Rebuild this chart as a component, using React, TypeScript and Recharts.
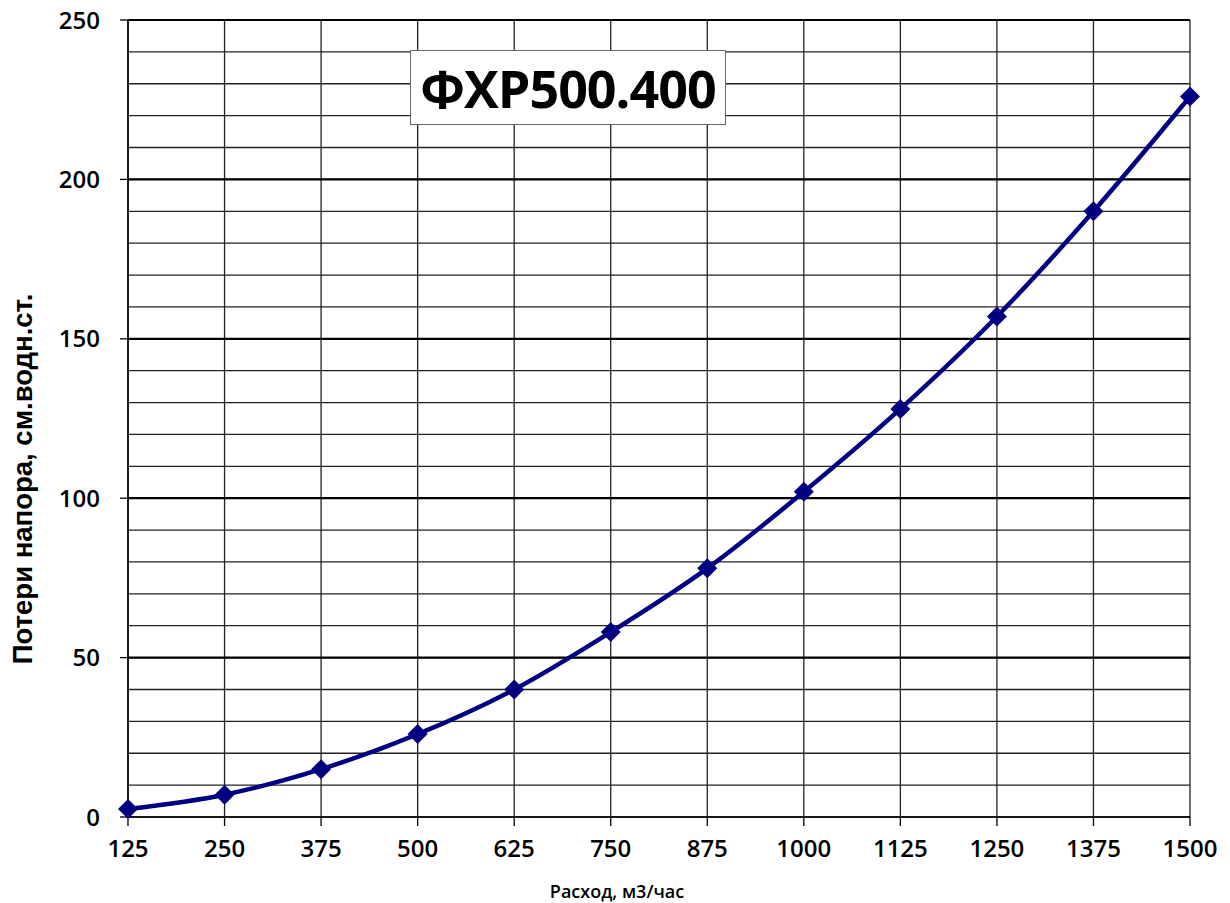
import React from "react";
import {
  LineChart,
  Line,
  XAxis,
  YAxis,
  CartesianGrid,
  ReferenceLine,
} from "recharts";

const rashod = [125, 250, 375, 500, 625, 750, 875, 1000, 1125, 1250, 1375, 1500];
const poteri = [2.5, 7, 15, 26, 40, 58, 78, 102, 128, 157, 190, 226];
const yTicks = [0, 50, 100, 150, 200, 250];
const yMinor = [0, 10, 20, 30, 40, 50, 60, 70, 80, 90, 100, 110, 120, 130, 140, 150, 160, 170, 180, 190, 200, 210, 220, 230, 240, 250];

const data = rashod.map((x, i) => ({ x, y: poteri[i] }));

const tickFont = { fontFamily: "Open Sans", fontWeight: 600, fontSize: 24, fill: "#000" };

function Diamond(props: any) {
  const { cx, cy } = props;
  if (cx == null || cy == null) return null;
  const r = 10;
  return (
    <path
      d={`M${cx},${cy - r} L${cx + r},${cy} L${cx},${cy + r} L${cx - r},${cy} Z`}
      fill="#000080"
    />
  );
}

function YLabel() {
  return (
    <text
      x={22}
      y={479}
      transform="rotate(-90 22 479)"
      textAnchor="middle"
      dominantBaseline="central"
      style={{ fontFamily: "Liberation Sans", fontWeight: 700, fontSize: 27.5, fill: "#000" }}
    >
      Потери напора,  см.водн.ст.
    </text>
  );
}

function XLabel() {
  return (
    <text
      x={617}
      y={891}
      textAnchor="middle"
      dominantBaseline="central"
      style={{ fontFamily: "Open Sans", fontWeight: 600, fontSize: 18, fill: "#000" }}
    >
      Расход, м3/час
    </text>
  );
}

export default function App() {
  return (
    <div style={{ position: "absolute", left: 0, top: 0, width: 1230, height: 903, background: "#fff" }}>
      <LineChart
        width={1230}
        height={903}
        data={data}
        margin={{ top: 20, right: 40, bottom: 56, left: 0 }}
      >
        <CartesianGrid
          stroke="#222"
          strokeWidth={1.3}
          horizontalValues={yMinor}
          verticalValues={rashod}
        />
        {yTicks.slice(1).map((v) => (
          <ReferenceLine key={v} y={v} stroke="#000" strokeWidth={2.2} />
        ))}
        <XAxis
          dataKey="x"
          type="number"
          domain={[125, 1500]}
          ticks={rashod}
          interval={0}
          height={30}
          tickSize={9}
          tickMargin={14}
          tick={tickFont}
          axisLine={{ stroke: "#000", strokeWidth: 1.5 }}
          tickLine={{ stroke: "#000", strokeWidth: 1.3 }}
          label={<XLabel />}
        />
        <YAxis
          type="number"
          domain={[0, 250]}
          ticks={yTicks}
          interval={0}
          width={128}
          tickSize={8}
          tickMargin={20}
          tick={tickFont}
          axisLine={{ stroke: "#000", strokeWidth: 1.5 }}
          tickLine={{ stroke: "#000", strokeWidth: 1.3 }}
          label={<YLabel />}
        />
        <Line
          type="monotone"
          dataKey="y"
          stroke="#000080"
          strokeWidth={4.5}
          dot={<Diamond />}
          activeDot={false}
          isAnimationActive={false}
        />
      </LineChart>
      <div
        style={{
          position: "absolute",
          left: 410,
          top: 50,
          width: 316,
          height: 75,
          boxSizing: "border-box",
          border: "1.5px solid #666",
          background: "#fff",
          display: "flex",
          alignItems: "center",
          justifyContent: "center",
          fontFamily: "Open Sans",
          fontWeight: 700,
          fontSize: 52,
          letterSpacing: -1,
          color: "#000",
        }}
      >
        ФХР500.400
      </div>
    </div>
  );
}
